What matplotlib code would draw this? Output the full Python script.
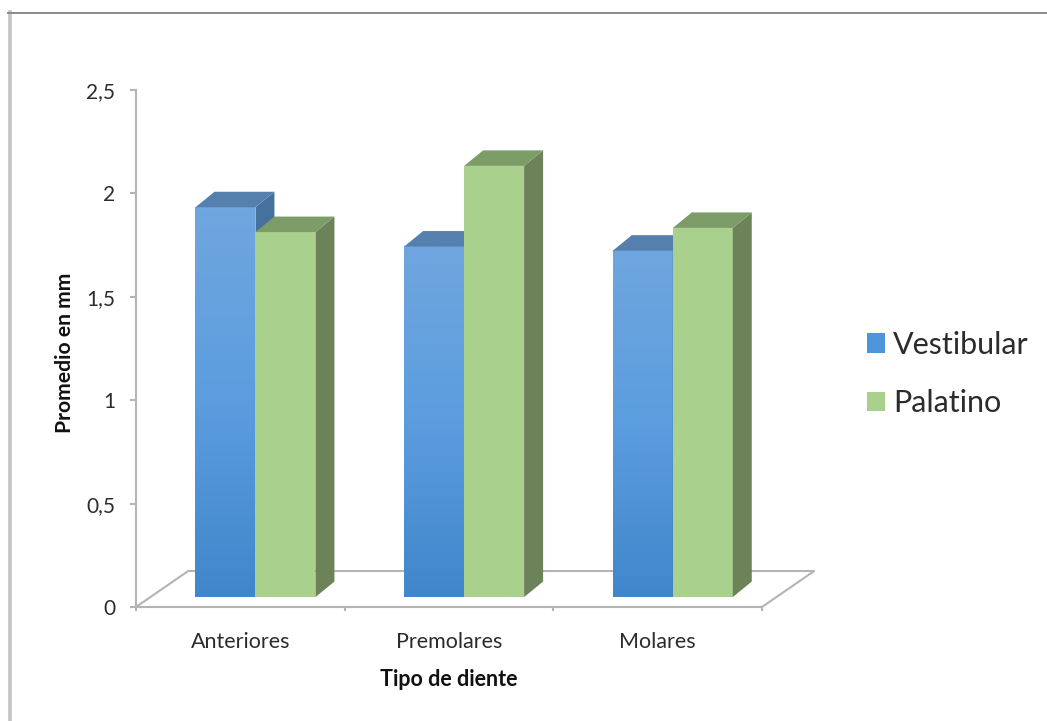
import matplotlib.pyplot as plt
import numpy as np
from matplotlib.colors import LinearSegmentedColormap
from matplotlib.lines import Line2D
from matplotlib.patches import Patch

categories = ["Anteriores", "Premolares", "Molares"]
vestibular = [1.885, 1.695, 1.675]
palatino = [1.765, 2.085, 1.785]
y_ticks = [0, 0.5, 1, 1.5, 2, 2.5]
y_tick_labels = ["0", "0,5", "1", "1,5", "2", "2,5"]

W, H = 1047, 721
AX_L, AX_R, AX_T, AX_B = 136, 762, 90, 607

# fake 3d offsets, in data units
BAR_W = 0.2875
BAR_START = 0.285
DEPTH_X = 0.091
DEPTH_Y = 0.075
BASE = 0.048
FLOOR_X = 0.25
FLOOR_Y = 0.174

GREY = "#b4b4b4"
TXT = "#2c2c2c"
FONT = ["Lato", "DejaVu Sans"]

plt.rcParams["font.family"] = FONT

blue_map = LinearSegmentedColormap.from_list("blue", ["#4186cb", "#5b9ddf", "#6fa6de"])


def draw_bar(ax, x, val, front, side, top, cmap=None):
    y0, y1 = BASE, BASE + val
    x1 = x + BAR_W
    if cmap is not None:
        grad = np.linspace(0, 1, 128).reshape(-1, 1)
        ax.imshow(grad, extent=(x, x1, y0, y1), origin="lower", cmap=cmap,
                  aspect="auto", zorder=3, vmin=0, vmax=1)
    else:
        ax.fill([x, x1, x1, x], [y0, y0, y1, y1], color=front, lw=0, zorder=3)
    # side face
    ax.fill([x1, x1 + DEPTH_X, x1 + DEPTH_X, x1],
            [y0, y0 + DEPTH_Y, y1 + DEPTH_Y, y1], color=side, lw=0, zorder=3)
    # top face
    ax.fill([x, x1, x1 + DEPTH_X, x + DEPTH_X],
            [y1, y1, y1 + DEPTH_Y, y1 + DEPTH_Y], color=top, lw=0, zorder=3)


fig = plt.figure(figsize=(W / 100, H / 100), dpi=100, facecolor="white")
ax = fig.add_axes([AX_L / W, 1 - AX_B / H, (AX_R - AX_L) / W, (AX_B - AX_T) / H])

for i in range(len(categories)):
    x = i + BAR_START
    draw_bar(ax, x, vestibular[i], None, "#46719c", "#5580ad", cmap=blue_map)
    draw_bar(ax, x + BAR_W, palatino[i], "#a9d08d", "#6c8359", "#7c9d68")

# floor of the chart
ax.plot([0, FLOOR_X, 3 + FLOOR_X, 3], [0, FLOOR_Y, FLOOR_Y, 0], color=GREY,
        lw=1.5, clip_on=False, zorder=2)

ax.set_xlim(0, 3)
ax.set_ylim(0, 2.5)
ax.set_yticks(y_ticks)
ax.set_yticklabels(y_tick_labels, fontsize=15, color=TXT)
ax.set_xticks([0, 1, 2, 3])
ax.set_xticklabels([])
ax.set_xticks([0.5, 1.5, 2.5], categories, minor=True, fontsize=15.5, color=TXT)
ax.tick_params(axis="y", length=4, width=1.5, color=GREY, pad=11)
ax.tick_params(axis="x", which="major", length=3, width=1.5, color=GREY)
ax.tick_params(axis="x", which="minor", length=0, pad=18)

for s in ["top", "right"]:
    ax.spines[s].set_visible(False)
for s in ["left", "bottom"]:
    ax.spines[s].set_color(GREY)
    ax.spines[s].set_linewidth(1.5)
ax.patch.set_alpha(0)

ax.set_xlabel("Tipo de diente", fontsize=15.5, fontweight="bold", color="#111111", labelpad=12)
ax.set_ylabel("Promedio en mm", fontsize=15.2, fontweight="bold", color="#111111")
ax.yaxis.set_label_coords((75 - AX_L) / (AX_R - AX_L), (AX_B - 353) / (AX_B - AX_T))

# outer frame, only left and top are visible
fig.add_artist(Line2D([9.5 / W, 9.5 / W], [0, 1 - 12 / H], color="#c4c4c4", lw=2.6))
fig.add_artist(Line2D([8 / W, 1], [1 - 12.5 / H, 1 - 12.5 / H], color="#8a8a8a", lw=1.4))

handles = [Patch(facecolor="#4d94da", label="Vestibular"),
           Patch(facecolor="#a9d08d", label="Palatino")]
fig.legend(handles=handles, loc="center left", bbox_to_anchor=(839 / W, 1 - 374 / H),
           frameon=False, fontsize=22, handlelength=0.62, handleheight=0.62,
           handletextpad=0.26, labelspacing=1.0, labelcolor="#2c2c2c")

fig.savefig("out.png", dpi=100)
